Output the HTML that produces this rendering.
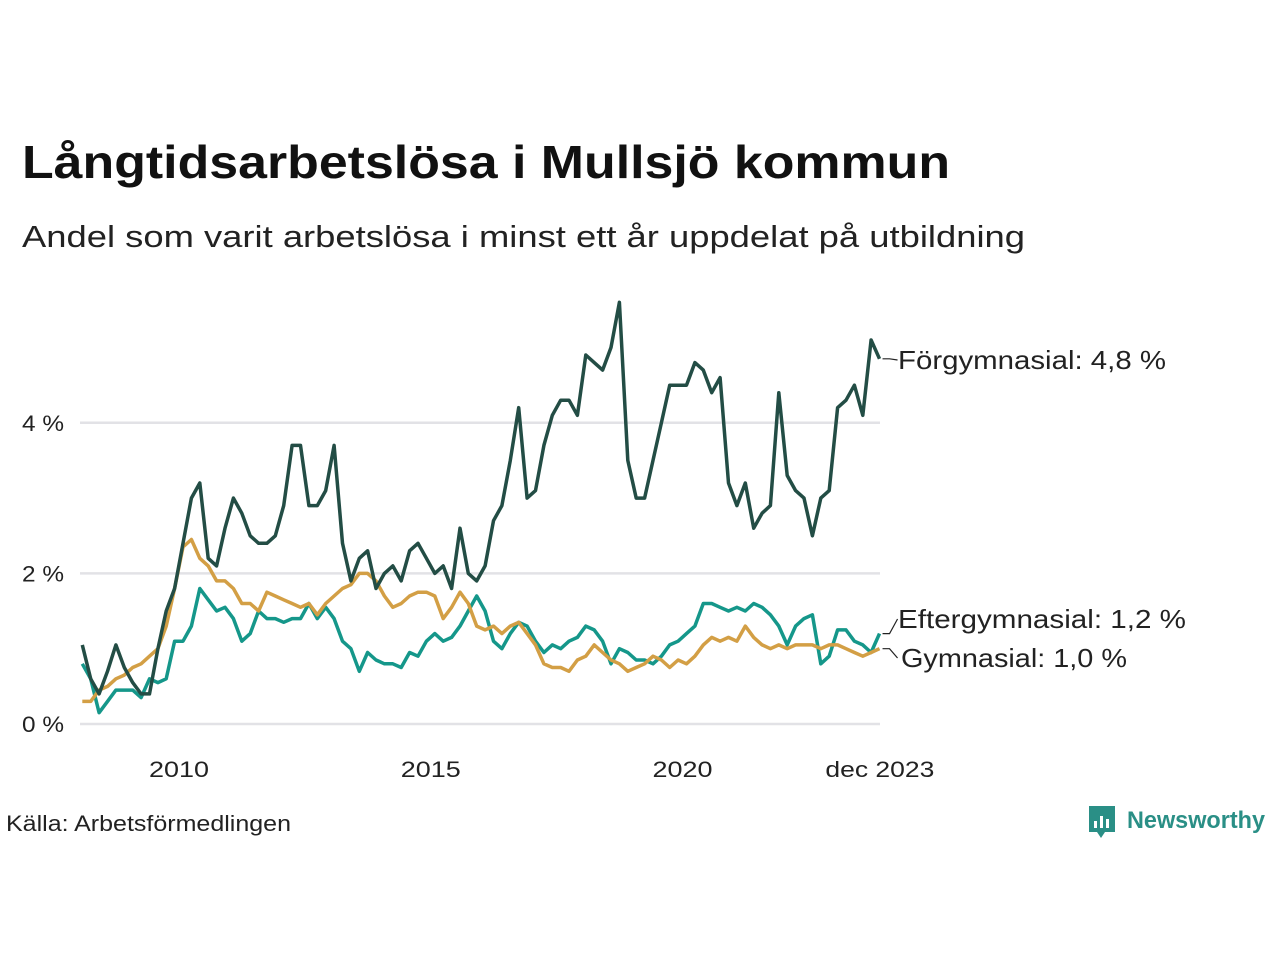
<!DOCTYPE html>
<html><head><meta charset="utf-8"><style>
html,body{margin:0;padding:0;background:#fff;}
svg{display:block;font-family:"Liberation Sans","DejaVu Sans",sans-serif;}
</style></head><body>
<svg id="chart" width="1280" height="960" viewBox="0 0 1280 960">
<text x="22" y="178" font-size="46" font-weight="bold" fill="#111" textLength="928" lengthAdjust="spacingAndGlyphs">Långtidsarbetslösa i Mullsjö kommun</text>
<text x="22" y="247" font-size="31" fill="#222" textLength="1003" lengthAdjust="spacingAndGlyphs">Andel som varit arbetslösa i minst ett år uppdelat på utbildning</text>
<g id="grid"></g>
<g id="yticks"></g>
<g id="xticks"></g>
<g id="lines"></g>
<g id="labels"></g>
<text x="6" y="831" font-size="22" fill="#222" textLength="285" lengthAdjust="spacingAndGlyphs">Källa: Arbetsförmedlingen</text>
<g>
<path d="M1089 806 h26 v26 h-10 l-4 6 l-4 -6 h-8 z" fill="#2a8f86"/>
<rect x="1094" y="821" width="3" height="7" fill="#fff"/><rect x="1100" y="816" width="3" height="12" fill="#fff"/><rect x="1106" y="819" width="3" height="9" fill="#fff"/>
<text x="1127" y="828" font-size="24" font-weight="bold" fill="#2a8f86" textLength="138" lengthAdjust="spacingAndGlyphs">Newsworthy</text>
</g>
</svg>
<script>
const yTicks=[0,2,4];
const yTickLabels=["0 %","2 %","4 %"];
const xTicks=[2010,2015,2020,2023.92];
const xTickLabels=["2010","2015","2020","dec 2023"];
const startYear=2008.08;
const stepYears=2/12;
const forgymnasial=[1.05,0.6,0.4,0.7,1.05,0.75,0.55,0.4,0.4,1.0,1.5,1.8,2.4,3.0,3.2,2.2,2.1,2.6,3.0,2.8,2.5,2.4,2.4,2.5,2.9,3.7,3.7,2.9,2.9,3.1,3.7,2.4,1.9,2.2,2.3,1.8,2.0,2.1,1.9,2.3,2.4,2.2,2.0,2.1,1.8,2.6,2.0,1.9,2.1,2.7,2.9,3.5,4.2,3.0,3.1,3.7,4.1,4.3,4.3,4.1,4.9,4.8,4.7,5.0,5.6,3.5,3.0,3.0,3.5,4.0,4.5,4.5,4.5,4.8,4.7,4.4,4.6,3.2,2.9,3.2,2.6,2.8,2.9,4.4,3.3,3.1,3.0,2.5,3.0,3.1,4.2,4.3,4.5,4.1,5.1,4.85];
const eftergymnasial=[0.8,0.6,0.15,0.3,0.45,0.45,0.45,0.35,0.6,0.55,0.6,1.1,1.1,1.3,1.8,1.65,1.5,1.55,1.4,1.1,1.2,1.5,1.4,1.4,1.35,1.4,1.4,1.6,1.4,1.55,1.4,1.1,1.0,0.7,0.95,0.85,0.8,0.8,0.75,0.95,0.9,1.1,1.2,1.1,1.15,1.3,1.5,1.7,1.5,1.1,1.0,1.2,1.35,1.3,1.1,0.95,1.05,1.0,1.1,1.15,1.3,1.25,1.1,0.8,1.0,0.95,0.85,0.85,0.8,0.9,1.05,1.1,1.2,1.3,1.6,1.6,1.55,1.5,1.55,1.5,1.6,1.55,1.45,1.3,1.05,1.3,1.4,1.45,0.8,0.9,1.25,1.25,1.1,1.05,0.95,1.2];
const gymnasial=[0.3,0.3,0.45,0.5,0.6,0.65,0.75,0.8,0.9,1.0,1.3,1.8,2.35,2.45,2.2,2.1,1.9,1.9,1.8,1.6,1.6,1.5,1.75,1.7,1.65,1.6,1.55,1.6,1.45,1.6,1.7,1.8,1.85,2.0,2.0,1.9,1.7,1.55,1.6,1.7,1.75,1.75,1.7,1.4,1.55,1.75,1.6,1.3,1.25,1.3,1.2,1.3,1.35,1.2,1.05,0.8,0.75,0.75,0.7,0.85,0.9,1.05,0.95,0.85,0.8,0.7,0.75,0.8,0.9,0.85,0.75,0.85,0.8,0.9,1.05,1.15,1.1,1.15,1.1,1.3,1.15,1.05,1.0,1.05,1.0,1.05,1.05,1.05,1.0,1.05,1.05,1.0,0.95,0.9,0.95,1.0];
const seriesNames=["Förgymnasial","Eftergymnasial","Gymnasial"];
const seriesLabels=["Förgymnasial: 4,8 %","Eftergymnasial: 1,2 %","Gymnasial: 1,0 %"];

const NS="http://www.w3.org/2000/svg";
function xs(year){return 179+(year-2010)*50.35;}
function ys(v){return 724-v*75.3;}
function mk(tag,attrs,parent){const e=document.createElementNS(NS,tag);for(const k in attrs)e.setAttribute(k,attrs[k]);parent.appendChild(e);return e;}
const grid=document.getElementById('grid'),yt=document.getElementById('yticks'),xt=document.getElementById('xticks'),lines=document.getElementById('lines'),labels=document.getElementById('labels');
yTicks.forEach((v,i)=>{
 const l=mk('line',{x1:80,x2:880,y1:ys(v),y2:ys(v),stroke:'#e2e2e6','stroke-width':2.5},grid);
 
 
 const t=mk('text',{x:64,y:ys(v)+8,'font-size':22,fill:'#222','text-anchor':'end',textLength:42,lengthAdjust:'spacingAndGlyphs'},yt);
 t.textContent=yTickLabels[i];
 
 
});
xTicks.forEach((v,i)=>{
 const w=xTickLabels[i].length>4?109:60;
 const t=mk('text',{x:xs(v),y:777,'font-size':22,fill:'#222','text-anchor':'middle',textLength:w,lengthAdjust:'spacingAndGlyphs'},xt);
 t.textContent=xTickLabels[i];
 
 
});
const series=[[eftergymnasial,'#15978a'],[gymnasial,'#d39f45'],[forgymnasial,'#234d45']];
series.forEach(([d,c],si)=>{
 const pts=d.map((v,i)=>xs(startYear+i*stepYears).toFixed(1)+','+ys(v).toFixed(1)).join(' ');
 const p=mk('polyline',{points:pts,fill:'none',stroke:c,'stroke-width':3.5,'stroke-linejoin':'round'},lines);
 
 
});
function lastY(d){return ys(d[d.length-1]);}
const lastX=xs(startYear+(forgymnasial.length-1)*stepYears);
const labelYs=[360,619,658];
const labelWidths=[268,288,226];
[forgymnasial,eftergymnasial,gymnasial].forEach((d,i)=>{
 const ly=labelYs[i];
 const cl=mk('polyline',{points:`${lastX+3},${lastY(d)} ${lastX+10},${lastY(d)} ${lastX+18},${ly}`,fill:'none',stroke:'#222','stroke-width':1.2},labels);
 
 
 const t=mk('text',{x:i==2?901:898,y:ly+9,'font-size':26,fill:'#222',textLength:labelWidths[i],lengthAdjust:'spacingAndGlyphs'},labels);
 t.textContent=seriesLabels[i];
 
 
});
</script>
</body></html>
